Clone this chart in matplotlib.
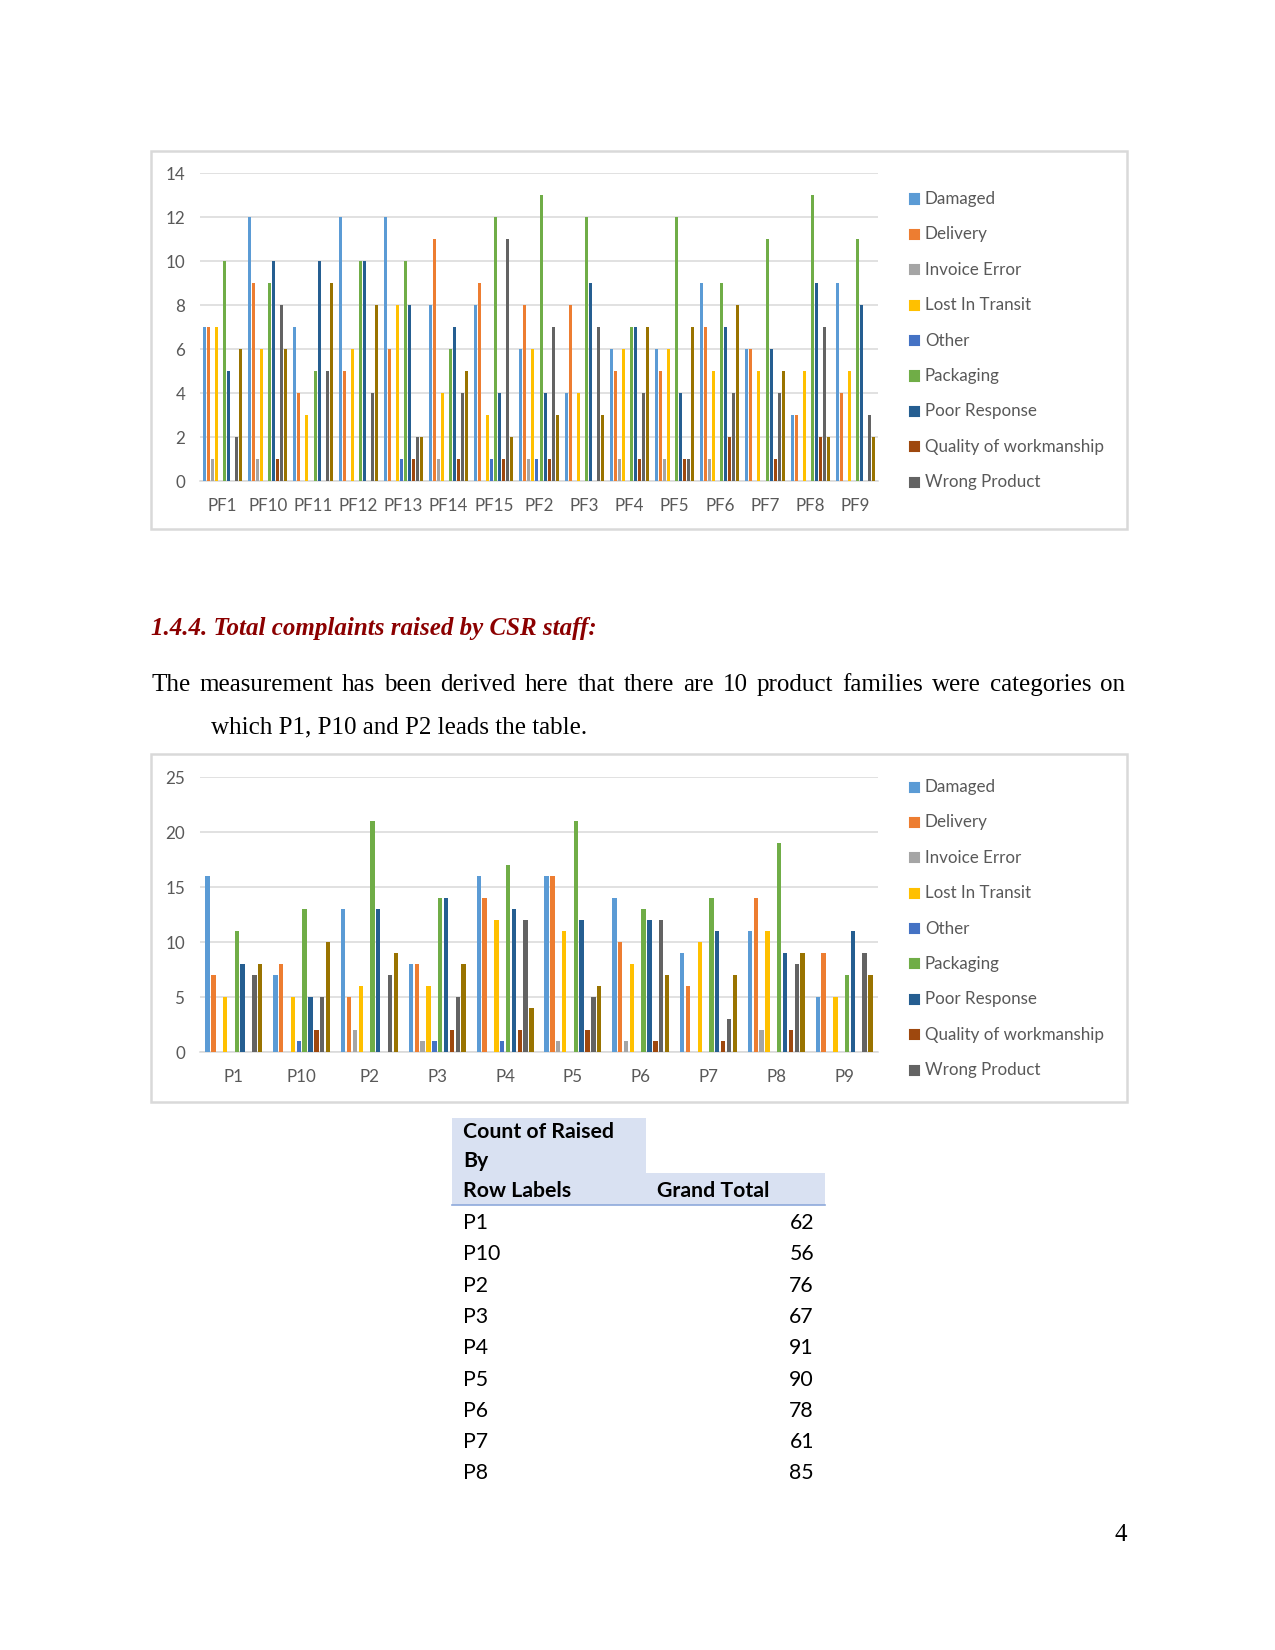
import matplotlib
matplotlib.use('Agg')
import matplotlib.pyplot as plt
from matplotlib.patches import Rectangle
import numpy as np

W, H = 1275, 1650
DPI = 150

series = ['Damaged', 'Delivery', 'Invoice Error', 'Lost In Transit', 'Other',
          'Packaging', 'Poor Response', 'Quality of workmanship', 'Wrong Product', '(blank)']
colors = ['#5B9BD5', '#ED7D31', '#A5A5A5', '#FFC000', '#4472C4',
          '#70AD47', '#255E91', '#9E480E', '#636363', '#997300']

# chart 1: complaints by product family
pf_labels = ['PF1', 'PF10', 'PF11', 'PF12', 'PF13', 'PF14', 'PF15', 'PF2',
             'PF3', 'PF4', 'PF5', 'PF6', 'PF7', 'PF8', 'PF9']
pf_damaged = [7, 12, 7, 12, 12, 8, 8, 6, 4, 6, 6, 9, 6, 3, 9]
pf_delivery = [7, 9, 4, 5, 6, 11, 9, 8, 8, 5, 5, 7, 6, 3, 4]
pf_invoice = [1, 1, 0, 0, 0, 1, 0, 1, 0, 1, 1, 1, 0, 0, 0]
pf_lost = [7, 6, 3, 6, 8, 4, 3, 6, 4, 6, 6, 5, 5, 5, 5]
pf_other = [0, 0, 0, 0, 1, 0, 1, 1, 0, 0, 0, 0, 0, 0, 0]
pf_packaging = [10, 9, 5, 10, 10, 6, 12, 13, 12, 7, 12, 9, 11, 13, 11]
pf_poor = [5, 10, 10, 10, 8, 7, 4, 4, 9, 7, 4, 7, 6, 9, 8]
pf_quality = [0, 1, 0, 0, 1, 1, 1, 1, 0, 1, 1, 2, 1, 2, 0]
pf_wrong = [2, 8, 5, 4, 2, 4, 11, 7, 7, 4, 1, 4, 4, 7, 3]
pf_blank = [6, 6, 9, 8, 2, 5, 2, 3, 3, 7, 7, 8, 5, 2, 2]

# chart 2: complaints raised by CSR staff
p_labels = ['P1', 'P10', 'P2', 'P3', 'P4', 'P5', 'P6', 'P7', 'P8', 'P9']
p_damaged = [16, 7, 13, 8, 16, 16, 14, 9, 11, 5]
p_delivery = [7, 8, 5, 8, 14, 16, 10, 6, 14, 9]
p_invoice = [0, 0, 2, 1, 0, 1, 1, 0, 2, 0]
p_lost = [5, 5, 6, 6, 12, 11, 8, 10, 11, 5]
p_other = [0, 1, 0, 1, 1, 0, 0, 0, 0, 0]
p_packaging = [11, 13, 21, 14, 17, 21, 13, 14, 19, 7]
p_poor = [8, 5, 13, 14, 13, 12, 12, 11, 9, 11]
p_quality = [0, 2, 0, 2, 2, 2, 1, 1, 2, 0]
p_wrong = [7, 5, 7, 5, 12, 5, 12, 3, 8, 9]
p_blank = [8, 10, 9, 8, 4, 6, 7, 7, 9, 7]

# pivot table
table_rows = ['P1', 'P10', 'P2', 'P3', 'P4', 'P5', 'P6', 'P7', 'P8']
grand_total = [62, 56, 76, 67, 91, 90, 78, 61, 85]

heading = '1.4.4. Total complaints raised by CSR staff:'
para_line1 = ('The measurement has been derived here that there are 10 product '
              'families were categories on')
para_line2 = 'which P1, P10 and P2 leads the table.'

CHART_FONT = 'Lato'
SERIF = 'Liberation Serif'
TXT = '#595959'

fig = plt.figure(figsize=(W / DPI, H / DPI), dpi=DPI)


def fx(x):
    return x / W


def fy(y):
    return 1 - y / H


def rect(x0, y0, x1, y1):
    return [fx(x0), fy(y1), (x1 - x0) / W, (y1 - y0) / H]


def draw_chart(box, plot, cats, values, ymax, ystep, group, legend_y):
    fig.patches.append(Rectangle((fx(box[0]), fy(box[3])), (box[2] - box[0]) / W,
                                 (box[3] - box[1]) / H, transform=fig.transFigure,
                                 fill=False, edgecolor='#D9D9D9', lw=1.2))
    ax = fig.add_axes(rect(*plot))
    x = np.arange(len(cats))
    slot = group / len(values)
    for i, vals in enumerate(values):
        ax.bar(x - group / 2 + slot * (i + 0.5), vals, width=slot * 0.75,
               color=colors[i], zorder=3)
    ax.set_xlim(-0.5, len(cats) - 0.5)
    ax.set_ylim(0, ymax)
    ax.set_yticks(range(0, ymax + 1, ystep))
    ax.set_xticks(x)
    ax.set_xticklabels(cats)
    ax.grid(axis='y', color='#D9D9D9', lw=0.75, zorder=0)
    for s in ['top', 'right', 'left']:
        ax.spines[s].set_visible(False)
    ax.spines['bottom'].set_color('#D9D9D9')
    ax.spines['bottom'].set_linewidth(0.75)
    ax.tick_params(axis='both', length=0, labelsize=8.2, labelcolor=TXT)
    ax.tick_params(axis='y', pad=7)
    ax.tick_params(axis='x', pad=8)
    for lab in ax.get_xticklabels() + ax.get_yticklabels():
        lab.set_family(CHART_FONT)
    # legend (only the first nine entries fit in the box)
    for i, name in enumerate(series[:9]):
        y = legend_y + i * 35.4
        fig.patches.append(Rectangle((fx(910), fy(y + 4.5)), 9 / W, 9 / H,
                                     transform=fig.transFigure, color=colors[i]))
        fig.text(fx(925), fy(y), name, fontsize=8.2, family=CHART_FONT,
                 color=TXT, va='center', ha='left')
    return ax


draw_chart((151, 151, 1127, 529), (200, 173.3, 878, 481.3), pf_labels,
           [pf_damaged, pf_delivery, pf_invoice, pf_lost, pf_other, pf_packaging,
            pf_poor, pf_quality, pf_wrong, pf_blank], 14, 2, 0.885, 199)

draw_chart((151, 754, 1127, 1102), (200, 777.3, 878, 1052.3), p_labels,
           [p_damaged, p_delivery, p_invoice, p_lost, p_other, p_packaging,
            p_poor, p_quality, p_wrong, p_blank], 25, 5, 0.865, 787)

# heading and paragraph
fig.text(fx(151), fy(628), heading, fontsize=12, family=SERIF, weight='bold',
         style='italic', color='#8B0000', va='center', ha='left')

renderer = fig.canvas.get_renderer()
words = para_line1.split()
texts = [fig.text(0, fy(685), w, fontsize=12, family=SERIF, va='center', ha='left')
         for w in words]
widths = [t.get_window_extent(renderer).width for t in texts]
gap = (1125 - 151 - sum(widths)) / (len(words) - 1)
xpos = 151
for t, wd in zip(texts, widths):
    t.set_x(fx(xpos))
    xpos += wd + gap
fig.text(fx(211), fy(727), para_line2, fontsize=12, family=SERIF,
         va='center', ha='left')

# pivot table
hdr = '#D9E1F2'
fig.patches.append(Rectangle((fx(452), fy(1173)), (646 - 452) / W, (1173 - 1118) / H,
                             transform=fig.transFigure, color=hdr, lw=0))
fig.patches.append(Rectangle((fx(452), fy(1205)), (825 - 452) / W, (1205 - 1173) / H,
                             transform=fig.transFigure, color=hdr, lw=0))
fig.add_artist(plt.Line2D([fx(452), fx(825)], [fy(1205), fy(1205)],
                          color='#8EA9DB', lw=0.8))
tk = dict(fontsize=10.2, family=CHART_FONT, color='black', va='center')
fig.text(fx(463), fy(1132), 'Count of Raised', weight='bold', ha='left', **tk)
fig.text(fx(463), fy(1161), 'By', weight='bold', ha='left', **tk)
fig.text(fx(463), fy(1191), 'Row Labels', weight='bold', ha='left', **tk)
fig.text(fx(657), fy(1191), 'Grand Total', weight='bold', ha='left', **tk)
for i, (lab, tot) in enumerate(zip(table_rows, grand_total)):
    y = 1223 + i * 31.3
    fig.text(fx(463), fy(y), lab, ha='left', **tk)
    fig.text(fx(814), fy(y), str(tot), ha='right', **tk)

fig.text(fx(1127), fy(1535), '4', fontsize=12, family=SERIF, va='center', ha='right')

fig.savefig('out.png', dpi=DPI)
plt.close(fig)
